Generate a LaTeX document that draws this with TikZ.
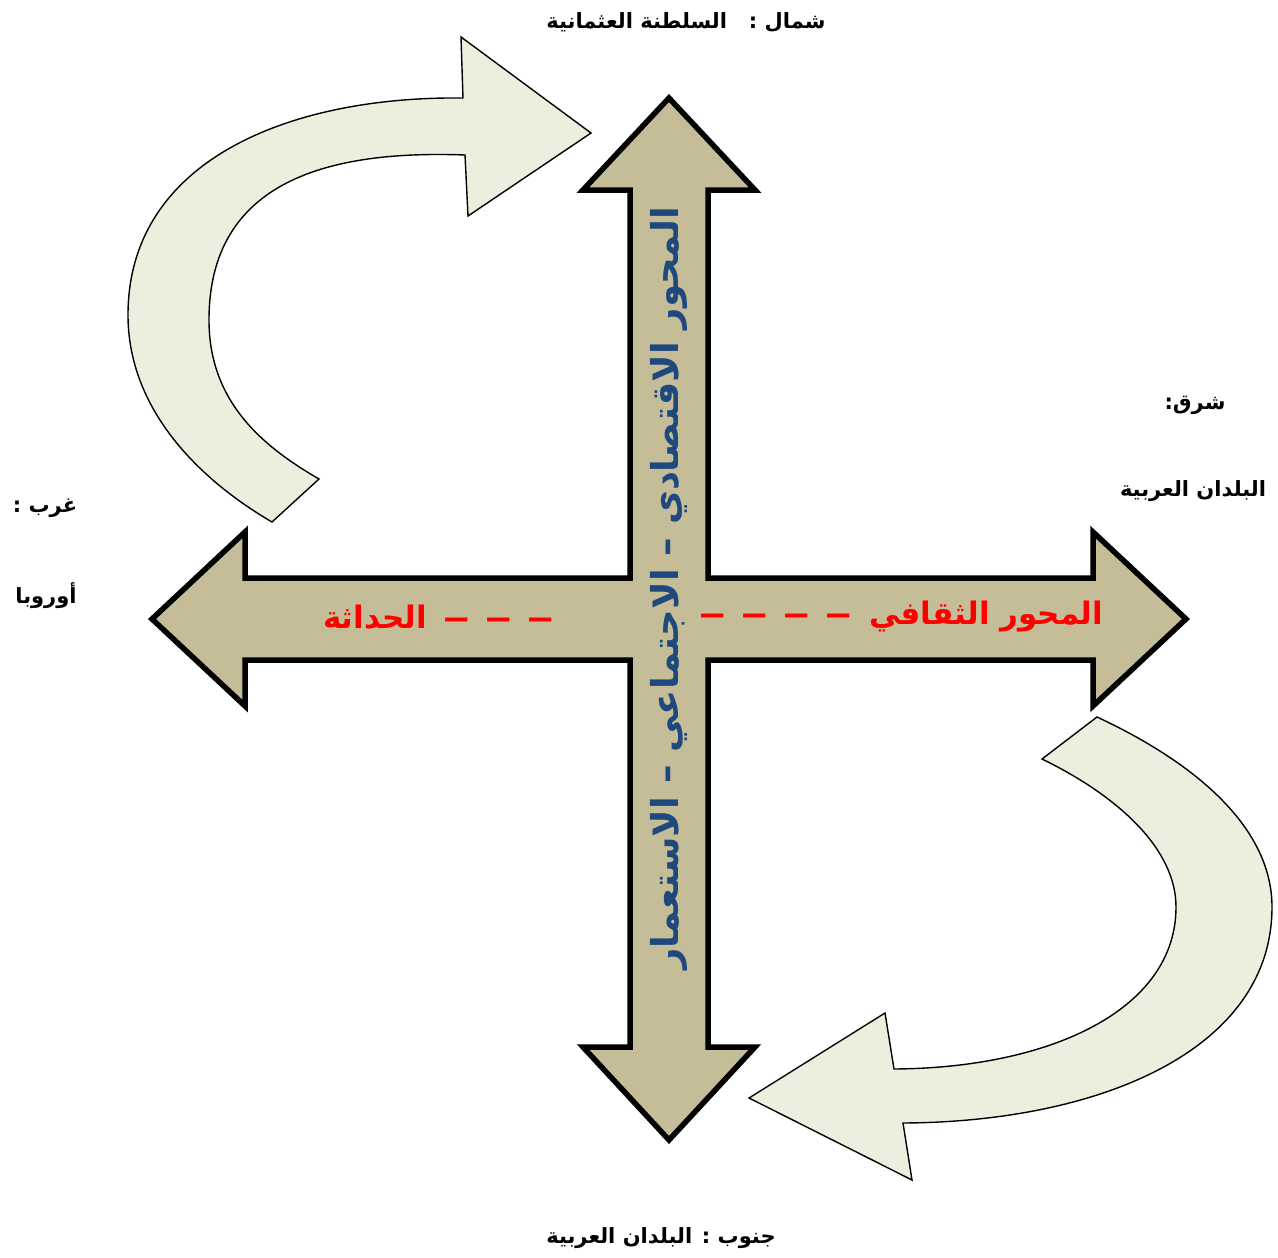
\documentclass[tikz,border=0pt]{standalone}
\usepackage{fontspec}
\TeXXeTstate=1
\newfontfamily\arabicfont[Script=Arabic]{DejaVu Sans}
\definecolor{tanfill}{HTML}{C4BD97}
\definecolor{greenfill}{HTML}{EAF0DD}
\definecolor{axisblue}{HTML}{1F497D}
\definecolor{redtext}{HTML}{FF0000}
\newcommand{\reddash}{\scalebox{1.83}[1]{–}}
\tikzset{
  crossarrow/.style={draw=black, line width=5.5pt, fill=tanfill, line join=miter, miter limit=10},
  bentarrow/.style={draw=black, line width=1.4pt, fill=greenfill, line join=miter},
  lbl/.style={font=\arabicfont\bfseries\fontsize{21}{25}\selectfont, text=black, inner sep=0pt},
  redlbl/.style={font=\arabicfont\bfseries\fontsize{31}{37}\selectfont, text=redtext, inner sep=0pt},
  axislbl/.style={font=\arabicfont\bfseries\fontsize{37}{44}\selectfont, text=axisblue, inner sep=0pt}
}
\begin{document}
\begin{tikzpicture}[x=1pt,y=-1pt]
\useasboundingbox (0,0) rectangle (1278,1258);
% cross-shaped double arrows
\draw[crossarrow] (669,98) -- (755,190) -- (708,190) -- (708,578) -- (1093,578) -- (1093,532)
  -- (1186,619) -- (1093,706) -- (1093,660) -- (708,660) -- (708,1047) -- (755,1047)
  -- (669,1140) -- (583,1047) -- (630,1047) -- (630,660) -- (245,660) -- (245,706)
  -- (152,619) -- (245,532) -- (245,578) -- (630,578) -- (630,190) -- (583,190) -- cycle;
% top-left curved arrow
\draw[bentarrow] (272,522) .. controls (200,480) and (128,410) .. (128,315)
  .. controls (128,160) and (290,96) .. (463,98)
  -- (461,37) -- (591,133) -- (468,216) -- (465,155)
  .. controls (330,150) and (209,180) .. (209,320)
  .. controls (209,400) and (260,445) .. (319,479) -- cycle;
% bottom-right curved arrow
\draw[bentarrow] (1097,717) .. controls (1200,765) and (1272,830) .. (1272,907)
  .. controls (1272,1050) and (1100,1122) .. (903,1123)
  -- (912,1180) -- (749,1098) -- (885,1013) -- (894,1069)
  .. controls (1050,1068) and (1176,1010) .. (1176,907)
  .. controls (1176,850) and (1120,797) .. (1042,759) -- cycle;
% labels
\node[lbl] (north) at (686,22) {\beginR شمال :\ \ \ السلطنة العثمانية\endR};
\node[lbl] (eastA) at (1195,405) {\beginR شرق:\endR};
\node[lbl] (eastB) at (1193,491) {\beginR البلدان العربية\endR};
\node[lbl] (westA) at (45,508) {\beginR غرب :\endR};
\node[lbl] (westB) at (46,596) {\beginR أوروبا\endR};
\node[lbl] (south) at (661,1238) {\beginR جنوب : البلدان العربية\endR};
\node[redlbl] (culture) at (901,617) {\reddash\hspace{13.6pt}\reddash\hspace{13.6pt}\reddash\hspace{13.6pt}\reddash\hspace{16pt}\beginR المحور الثقافي\endR};
\node[redlbl] (modern) at (439,617) {\beginR الحداثة\endR\hspace{16pt}\reddash\hspace{13.6pt}\reddash\hspace{13.6pt}\reddash};
\node[axislbl, rotate=90] (econ) at (669,588) {\beginR المحور الاقتصادي – الاجتماعي – الاستعمار\endR};
\end{tikzpicture}
\end{document}
